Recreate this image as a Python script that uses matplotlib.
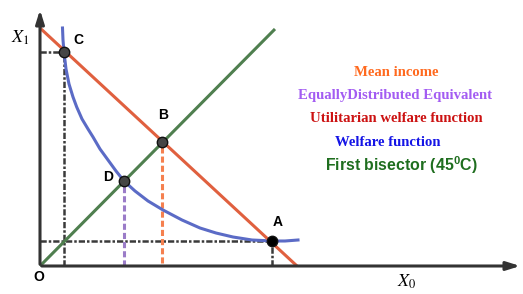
import matplotlib
matplotlib.use('Agg')
import matplotlib.pyplot as plt

# points (units: pixels from origin)
pt_names = ['C', 'B', 'D', 'A']
pt_x = [24, 122, 84, 232]
pt_y = [214, 124, 85, 25]

# utilitarian welfare function (straight line) and first bisector
red_x = [0, 257]
red_y = [238, 0]
green_x = [0, 235]
green_y = [0, 237]

# welfare function (curve), read point by point
blue_x = [22.5, 23, 24, 26, 29, 33, 36.7, 42, 48, 53, 60, 68, 76, 84, 95, 108,
          123, 142, 160, 176, 193, 212, 233, 245, 258]
blue_y = [238, 226, 214, 197, 182, 169, 159, 147, 137, 129, 117, 106, 95, 85, 75, 65,
          56, 46, 38, 33, 29, 26, 25, 25, 26]

legend_txt = ['Mean income', 'EquallyDistributed Equivalent',
              'Utilitarian welfare function', 'Welfare function']
legend_col = ['#ff6a1f', '#a35cf2', '#cc1212', '#1414e6']

plt.rcParams['mathtext.fontset'] = 'custom'
plt.rcParams['mathtext.sf'] = 'Liberation Sans:bold'
plt.rcParams['mathtext.rm'] = 'Liberation Sans:bold'

fig = plt.figure(figsize=(5.23, 2.94), dpi=100)
ax = fig.add_axes([0, 0, 1, 1])
ax.set_xlim(-40, 483)
ax.set_ylim(-28, 266)
ax.axis('off')

axis_col = '#333333'
# axes with arrows
ax.annotate('', xy=(483, 0), xytext=(-1, 0),
            arrowprops=dict(arrowstyle='-|>,head_length=0.8,head_width=0.25', lw=2.2, color=axis_col))
ax.annotate('', xy=(0, 259), xytext=(0, -1),
            arrowprops=dict(arrowstyle='-|>,head_length=0.8,head_width=0.25', lw=2.2, color=axis_col))

# guide lines
blk = (0, (2.5, 0.8, 1, 0.8))
ax.plot([0, pt_x[0]], [pt_y[0], pt_y[0]], color='#3a3a3a', lw=1.8, ls=blk)
ax.plot([pt_x[0], pt_x[0]], [0, pt_y[0]], color='#3a3a3a', lw=1.8, ls=blk)
ax.plot([0, pt_x[3]], [pt_y[3], pt_y[3]], color='#3a3a3a', lw=1.8, ls=blk)
ax.plot([pt_x[3], pt_x[3]], [0, pt_y[3]], color='#3a3a3a', lw=1.8, ls=blk)
ax.plot([pt_x[2], pt_x[2]], [0, pt_y[2]], color='#9b7cc8', lw=2.2, ls=(0, (2, 1)))
ax.plot([pt_x[1], pt_x[1]], [3, pt_y[1]], color='#f5804f', lw=2.2, ls=(0, (2, 1)))

# curves
ax.plot(green_x, green_y, color='#4f7f4f', lw=2.2, solid_capstyle='butt')
ax.plot(blue_x, blue_y, color='#5b6bc6', lw=2.2, solid_joinstyle='round')
ax.plot(red_x, red_y, color='#e0603f', lw=2.2, solid_capstyle='butt')

# points
for i, n in enumerate(pt_names):
    fc = '#000000' if n == 'A' else '#454545'
    ax.plot(pt_x[i], pt_y[i], 'o', ms=7.5, mfc=fc, mec='#111111', mew=1, zorder=5)

lab_off = {'C': (14, 12), 'B': (1, 27), 'D': (-16, 4), 'A': (6, 19)}
for i, n in enumerate(pt_names):
    dx, dy = lab_off[n]
    ax.text(pt_x[i] + dx, pt_y[i] + dy, n, fontsize=10, fontweight='bold',
            family='Liberation Sans', ha='center', va='center')
ax.text(-1, -11, 'O', fontsize=10, fontweight='bold', family='Liberation Sans',
        ha='center', va='center')

ax.text(-20, 228, r'$\mathit{X}_{\mathit{1}}$', fontsize=13, ha='center', va='center',
        math_fontfamily='stix')
ax.text(367, -16, r'$\mathit{X}_0$', fontsize=13, ha='center', va='center',
        math_fontfamily='stix')

# legend texts
leg_x = [356, 355, 356, 348]
leg_y = [193, 171, 148, 123]
for i in range(len(legend_txt)):
    ax.text(leg_x[i], leg_y[i], legend_txt[i], color=legend_col[i], fontsize=10.6,
            fontweight='bold', family='Liberation Serif', ha='center', va='center')
ax.text(361, 101, r'First bisector (45$^{\mathsf{0}}$C)', color='#1f6e1f', fontsize=11.4,
        fontweight='bold', family='Liberation Sans', ha='center', va='center',
        math_fontfamily='custom')

fig.savefig('out.png', dpi=100)
